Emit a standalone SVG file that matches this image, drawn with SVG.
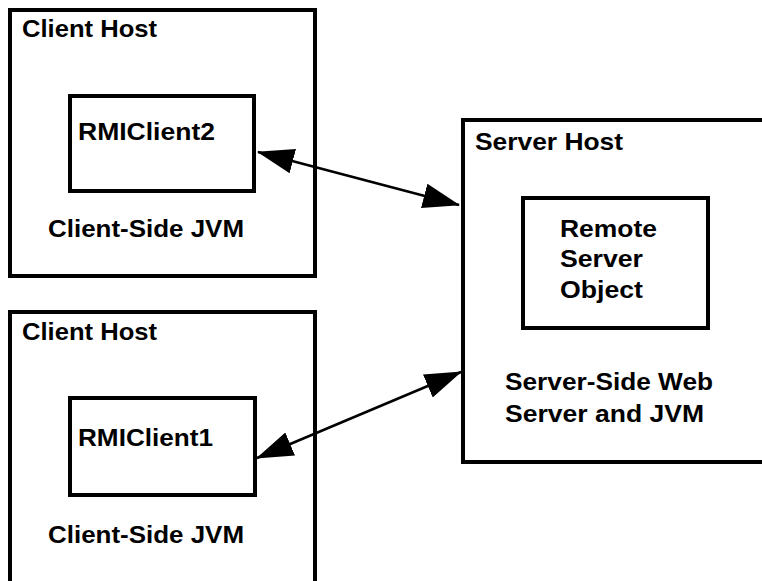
<svg xmlns="http://www.w3.org/2000/svg" width="762" height="581" viewBox="0 0 762 581">
  <style>
    .box { fill: none; stroke: #000; stroke-width: 4; }
    .lbl { font-family: "Liberation Sans", Arial, Helvetica, sans-serif; font-weight: bold; font-size: 24px; fill: #000; }
    .link { stroke: #000; stroke-width: 2.5; fill: none; marker-start: url(#head); marker-end: url(#head); }
  </style>
  <defs>
    <marker id="head" viewBox="0 0 37 25" refX="36" refY="12.5" markerWidth="37" markerHeight="25" markerUnits="userSpaceOnUse" orient="auto-start-reverse">
      <path d="M0,0 L37,12.5 L0,25 z" fill="#000"/>
    </marker>
  </defs>
  <rect width="762" height="581" fill="#fff"/>

  <!-- upper client host -->
  <g id="client-host-2">
    <rect class="box" x="10" y="10" width="305" height="266"/>
    <text class="lbl" x="22" y="37" textLength="135" lengthAdjust="spacingAndGlyphs">Client Host</text>
    <text class="lbl" x="48" y="237" textLength="196" lengthAdjust="spacingAndGlyphs">Client-Side JVM</text>
  </g>
  <g id="rmi-client-2">
    <rect class="box" x="70" y="96" width="184" height="95"/>
    <text class="lbl" x="78" y="140" textLength="137" lengthAdjust="spacingAndGlyphs">RMIClient2</text>
  </g>

  <!-- lower client host -->
  <g id="client-host-1">
    <rect class="box" x="10" y="312" width="305" height="290"/>
    <text class="lbl" x="22" y="340" textLength="135" lengthAdjust="spacingAndGlyphs">Client Host</text>
    <text class="lbl" x="48" y="543" textLength="196" lengthAdjust="spacingAndGlyphs">Client-Side JVM</text>
  </g>
  <g id="rmi-client-1">
    <rect class="box" x="70" y="398" width="185" height="97"/>
    <text class="lbl" x="78" y="446" textLength="135" lengthAdjust="spacingAndGlyphs">RMIClient1</text>
  </g>

  <!-- server host -->
  <g id="server-host">
    <rect class="box" x="463" y="120" width="320" height="342"/>
    <text class="lbl" x="475" y="150" textLength="148" lengthAdjust="spacingAndGlyphs">Server Host</text>
    <text class="lbl" x="505" y="390" textLength="208" lengthAdjust="spacingAndGlyphs">Server-Side Web</text>
    <text class="lbl" x="505" y="422" textLength="199" lengthAdjust="spacingAndGlyphs">Server and JVM</text>
  </g>
  <g id="remote-server-object">
    <rect class="box" x="523" y="198" width="185" height="130"/>
    <text class="lbl" x="560" y="237" textLength="97" lengthAdjust="spacingAndGlyphs">Remote</text>
    <text class="lbl" x="560" y="267" textLength="83" lengthAdjust="spacingAndGlyphs">Server</text>
    <text class="lbl" x="560" y="298" textLength="83" lengthAdjust="spacingAndGlyphs">Object</text>
  </g>

  <!-- RMI connections -->
  <g id="connectors">
    <line class="link" x1="258" y1="152" x2="459" y2="205"/>
    <line class="link" x1="257" y1="458" x2="461" y2="372"/>
  </g>
</svg>
